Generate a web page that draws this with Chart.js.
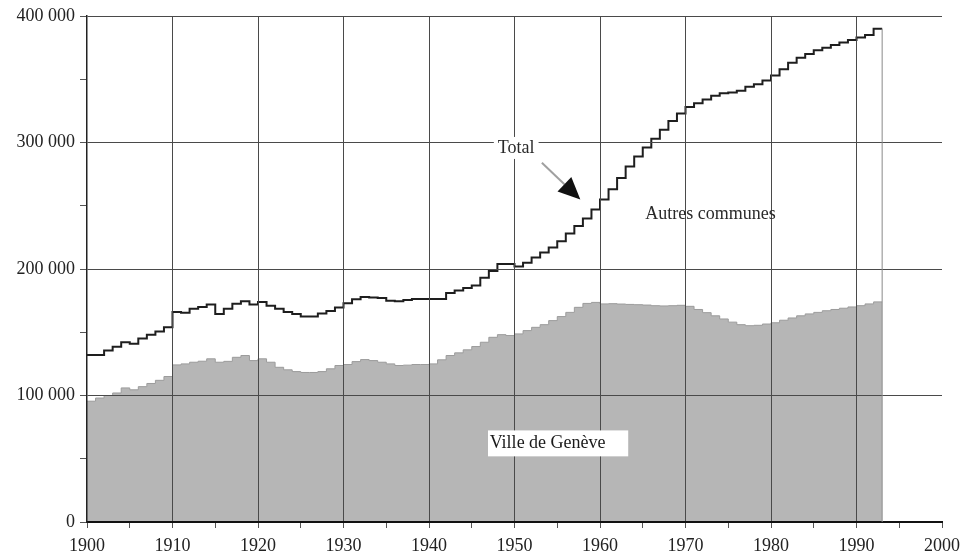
<!DOCTYPE html>
<html>
<head>
<meta charset="utf-8">
<script src="https://cdn.jsdelivr.net/npm/chart.js@4.4.1/dist/chart.umd.min.js"></script>
<style>
  body { margin: 0; background: #fff; }
  canvas { display: block; }
</style>
</head>
<body>
<canvas id="popChart" width="967" height="556"></canvas>
<script>
const years = [
  1900, 1901, 1902, 1903, 1904, 1905, 1906, 1907, 1908, 1909,
  1910, 1911, 1912, 1913, 1914, 1915, 1916, 1917, 1918, 1919,
  1920, 1921, 1922, 1923, 1924, 1925, 1926, 1927, 1928, 1929,
  1930, 1931, 1932, 1933, 1934, 1935, 1936, 1937, 1938, 1939,
  1940, 1941, 1942, 1943, 1944, 1945, 1946, 1947, 1948, 1949,
  1950, 1951, 1952, 1953, 1954, 1955, 1956, 1957, 1958, 1959,
  1960, 1961, 1962, 1963, 1964, 1965, 1966, 1967, 1968, 1969,
  1970, 1971, 1972, 1973, 1974, 1975, 1976, 1977, 1978, 1979,
  1980, 1981, 1982, 1983, 1984, 1985, 1986, 1987, 1988, 1989,
  1990, 1991, 1992
];
const endYear = 1993;

const totalPop = [
  132000, 132000, 135500, 138500, 142000, 141000, 145000, 148000, 150500, 154000,
  166000, 165500, 168500, 170000, 172000, 164500, 168500, 172500, 174500, 172000,
  174000, 171000, 168500, 166000, 164500, 162500, 162500, 164800, 166800, 169500,
  173000, 176000, 177800, 177500, 177000, 175000, 174500, 175500, 176300, 176300,
  176300, 176300, 181000, 183000, 185000, 187000, 193000, 198500, 204000, 204000,
  202000, 205000, 209000, 213000, 217000, 222000, 228000, 234000, 240000, 247000,
  255000, 263000, 272000, 281000, 289000, 296000, 303000, 310000, 317000, 323000,
  328000, 331000, 334000, 337000, 339000, 339500, 341000, 344000, 346000, 349000,
  353000, 358000, 363000, 367000, 370000, 373000, 375000, 377000, 379000, 381000,
  383000, 385000, 390000
];

const villePop = [
  95500, 98000, 100000, 102000, 106000, 104500, 107000, 109500, 112000, 115000,
  124200, 125000, 126300, 127100, 129000, 126300, 127000, 130200, 131600, 127600,
  129000, 126300, 122300, 120300, 118900, 118200, 118200, 118900, 121100, 123700,
  124500, 126800, 128400, 127600, 126300, 125000, 123700, 124000, 124500, 124500,
  125000, 128200, 131600, 133700, 136100, 138700, 142100, 146000, 148100, 147400,
  148700, 151300, 153900, 156000, 159200, 162400, 165700, 169700, 172800, 173600,
  172400, 172600, 172300, 172000, 171800, 171500, 171000, 170800, 171000, 171300,
  170500, 168000, 165500, 163000, 160500, 158000, 156000, 155200, 155500, 156500,
  157500, 159500, 161300, 163000, 164500, 165700, 167000, 168000, 169000, 170000,
  171000, 172400, 174000
];

const xTicks = [1900, 1910, 1920, 1930, 1940, 1950, 1960, 1970, 1980, 1990, 2000];
const yTicks = [0, 100000, 200000, 300000, 400000];

const serif = '"Liberation Serif", "DejaVu Serif", serif';

function toPoints(values) {
  const pts = years.map((yr, i) => ({ x: yr, y: values[i] }));
  pts.push({ x: endYear, y: values[values.length - 1] });
  return pts;
}

function fmtPop(v) {
  if (v === 0) return '0';
  return (v / 1000) + ' 000';
}

// labels, arrow and the closing edge of the total curve
const notes = {
  id: 'notes',
  afterDraw(chart) {
    const { ctx, scales: { x, y } } = chart;
    ctx.save();

    // vertical edge at the end of the series
    const xe = x.getPixelForValue(endYear);
    ctx.strokeStyle = '#8a8a8a';
    ctx.lineWidth = 1;
    ctx.beginPath();
    ctx.moveTo(xe, y.getPixelForValue(totalPop[totalPop.length - 1]));
    ctx.lineTo(xe, y.getPixelForValue(0));
    ctx.stroke();

    ctx.font = '18px ' + serif;
    ctx.textBaseline = 'middle';
    ctx.fillStyle = '#2a2a2a';

    // "Total" with white background
    const tx = x.getPixelForValue(1950.2);
    const ty = y.getPixelForValue(295700);
    const tw = ctx.measureText('Total').width;
    ctx.fillStyle = '#fff';
    ctx.fillRect(tx - tw / 2 - 4, ty - 11, tw + 8, 22);
    ctx.fillStyle = '#2a2a2a';
    ctx.textAlign = 'center';
    ctx.fillText('Total', tx, ty);

    // arrow
    const ax0 = x.getPixelForValue(1953.2), ay0 = y.getPixelForValue(284000);
    const ax1 = x.getPixelForValue(1957.7), ay1 = y.getPixelForValue(255000);
    const ang = Math.atan2(ay1 - ay0, ax1 - ax0);
    const headLen = 22, headW = 10;
    const bx = ax1 - headLen * Math.cos(ang), by = ay1 - headLen * Math.sin(ang);
    ctx.strokeStyle = '#a0a0a0';
    ctx.lineWidth = 2;
    ctx.beginPath();
    ctx.moveTo(ax0, ay0);
    ctx.lineTo(bx, by);
    ctx.stroke();
    ctx.fillStyle = '#111';
    ctx.beginPath();
    ctx.moveTo(ax1, ay1);
    ctx.lineTo(bx + headW * Math.sin(ang), by - headW * Math.cos(ang));
    ctx.lineTo(bx - headW * Math.sin(ang), by + headW * Math.cos(ang));
    ctx.closePath();
    ctx.fill();

    // Autres communes
    ctx.fillStyle = '#2a2a2a';
    ctx.textAlign = 'left';
    ctx.fillText('Autres communes', x.getPixelForValue(1965.3), y.getPixelForValue(243500));

    // Ville de Genève box
    const bl = x.getPixelForValue(1946.9), br = x.getPixelForValue(1963.3);
    const bt = y.getPixelForValue(72400), bb = y.getPixelForValue(51900);
    ctx.fillStyle = '#fff';
    ctx.fillRect(bl, bt, br - bl, bb - bt);
    ctx.fillStyle = '#1a1a1a';
    ctx.fillText('Ville de Genève', x.getPixelForValue(1947.1), y.getPixelForValue(62100));

    ctx.restore();
  }
};

const ctx = document.getElementById('popChart').getContext('2d');

const popChart = new Chart(ctx, {
  type: 'line',
  data: {
    datasets: [
      {
        label: 'Total',
        data: toPoints(totalPop),
        stepped: true,
        borderColor: '#1e1e1e',
        borderWidth: 2,
        pointRadius: 0,
        fill: false,
      },
      {
        label: 'Ville de Genève',
        data: toPoints(villePop),
        stepped: true,
        borderColor: '#9c9c9c',
        borderWidth: 1,
        backgroundColor: '#b6b6b6',
        pointRadius: 0,
        fill: 'origin',
      }
    ]
  },
  options: {
    responsive: false,
    animation: false,
    layout: {
      padding: { top: 16, right: 25, left: 0, bottom: 0 }
    },
    plugins: {
      legend: { display: false },
      tooltip: { enabled: false },
    },
    scales: {
      x: {
        type: 'linear',
        min: 1900,
        max: 2000,
        afterFit(scale) { scale.height = 34; },
        border: { color: '#111', width: 2, z: 1 },
        grid: {
          z: 1,
          color: (c) => (c.tick && c.tick.value % 10 === 0 && c.tick.value > 1900 && c.tick.value < 2000) ? '#4a4a4a' : 'rgba(0,0,0,0)',
          lineWidth: 1,
          tickColor: '#555',
          tickLength: 6,
        },
        ticks: {
          stepSize: 5,
          autoSkip: false,
          maxRotation: 0,
          padding: 7,
          color: '#222',
          font: { family: serif, size: 18 },
          callback: (v) => xTicks.includes(v) ? String(v) : '',
        },
      },
      y: {
        min: 0,
        max: 400000,
        afterFit(scale) { scale.width = 87; },
        border: { color: '#222', width: 1.5, z: 1 },
        grid: {
          z: 1,
          color: (c) => (c.tick && c.tick.value > 0 && c.tick.value % 100000 === 0) ? '#4a4a4a' : 'rgba(0,0,0,0)',
          lineWidth: 1,
          tickColor: '#555',
          tickLength: 7,
        },
        ticks: {
          stepSize: 50000,
          padding: 5,
          color: '#222',
          font: { family: serif, size: 18 },
          callback: (v) => yTicks.includes(v) ? fmtPop(v) : '',
        },
      },
    },
  },
  plugins: [notes],
});
</script>
</body>
</html>
